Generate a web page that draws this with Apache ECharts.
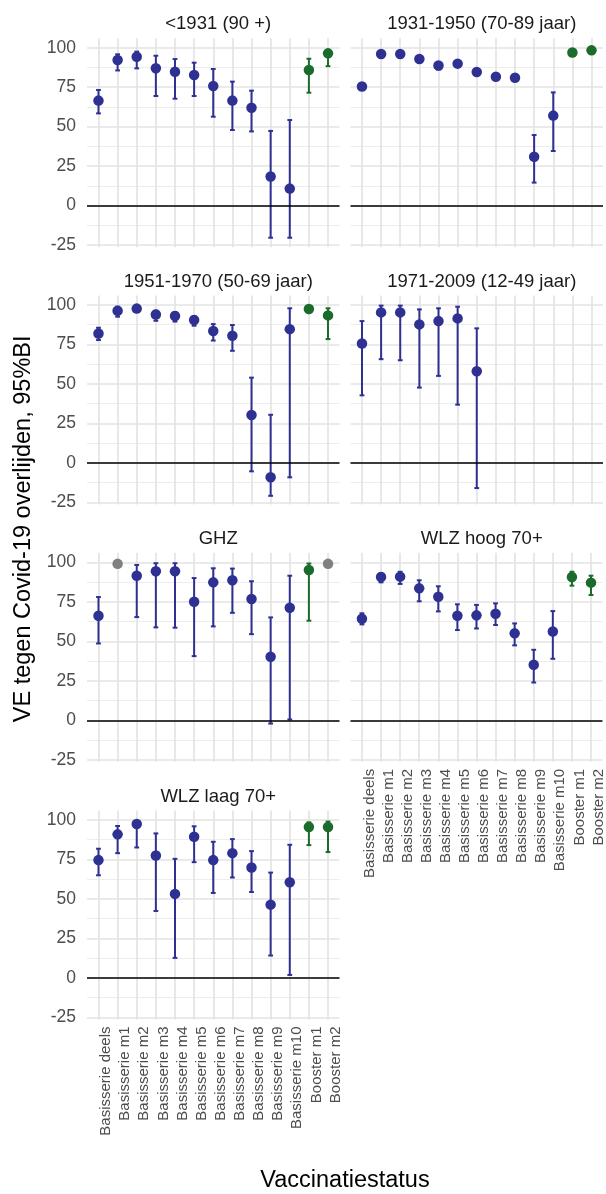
<!DOCTYPE html>
<html>
<head>
<meta charset="utf-8">
<script src="https://cdn.jsdelivr.net/npm/echarts@6/dist/echarts.min.js"></script>
<style>
  html, body { margin: 0; padding: 0; background: #fff; }
  #chart { width: 606px; height: 1194px; }
</style>
</head>
<body>
<div id="chart"></div>
<script>
// ---------------- DATA ----------------
const categories = ['Basisserie deels', 'Basisserie m1', 'Basisserie m2', 'Basisserie m3', 'Basisserie m4',
  'Basisserie m5', 'Basisserie m6', 'Basisserie m7', 'Basisserie m8', 'Basisserie m9', 'Basisserie m10',
  'Booster m1', 'Booster m2'];
const boosterCats = ['Booster m1', 'Booster m2'];
const panelTitles = ['<1931 (90 +)', '1931-1950 (70-89 jaar)', '1951-1970 (50-69 jaar)', '1971-2009 (12-49 jaar)',
  'GHZ', 'WLZ hoog 70+', 'WLZ laag 70+'];
const yTickValues = [-25, 0, 25, 50, 75, 100];
const yMinorValues = [-12.5, 12.5, 37.5, 62.5, 87.5];
const yAxisTitle = 'VE tegen Covid-19 overlijden, 95%BI';
const xAxisTitle = 'Vaccinatiestatus';

// <1931 (90 +)
const ve_p1 = [66.5, 92.2, 94.3, 87.0, 84.8, 82.7, 75.7, 66.5, 62.0, 18.4, 10.8, 85.9, 96.4];
const lo_p1 = [58.4, 85.6, 86.9, 69.4, 67.7, 69.4, 56.3, 47.9, 47.0, -20.3, -20.3, 71.5, 88.3];
const hi_p1 = [73.2, 95.8, 97.5, 94.9, 92.8, 90.5, 86.5, 78.5, 72.8, 47.3, 54.2, 93.0, 98.3];
// 1931-1950 (70-89 jaar)
const ve_p2 = [75.4, 96.0, 96.0, 92.8, 88.7, 89.9, 84.6, 81.6, 81.0, 31.0, 57.0, 97.0, 98.3];
const lo_p2 = [74.3, 95.4, 95.4, 91.8, 86.2, 88.9, 83.6, 80.4, 79.0, 14.6, 34.6, 96.5, 97.9];
const hi_p2 = [76.4, 96.6, 96.6, 93.7, 90.6, 90.8, 85.6, 82.8, 82.9, 44.7, 71.7, 97.5, 98.7];
// 1951-1970 (50-69 jaar)
const ve_p3 = [82.0, 96.4, 97.7, 94.0, 93.0, 90.5, 83.5, 80.5, 30.3, -9.0, 84.7, 97.5, 93.4];
const lo_p3 = [77.8, 92.6, 96.2, 90.0, 89.5, 86.9, 77.5, 71.0, -5.3, -20.8, -9.1, 96.5, 78.4];
const hi_p3 = [85.6, 98.9, 99.0, 96.4, 95.5, 93.0, 87.9, 87.3, 54.0, 30.5, 97.9, 98.5, 97.9];
// 1971-2009 (12-49 jaar)
const ve_p4 = [75.6, 95.3, 95.3, 87.7, 89.8, 91.5, 58.0, null, null, null, null, null, null];
const lo_p4 = [42.8, 65.7, 65.0, 47.7, 55.1, 36.9, -15.9, null, null, null, null, null, null];
const hi_p4 = [89.8, 99.6, 99.6, 97.2, 97.9, 98.9, 85.2, null, null, null, null, null, null];
// GHZ (grey = no interval)
const ve_p5 = [66.2, 99.0, 91.5, 94.3, 94.3, 75.0, 87.3, 88.6, 76.7, 40.2, 71.2, 95.1, 99.0];
const lo_p5 = [48.6, null, 65.3, 58.8, 58.6, 40.6, 59.4, 68.0, 54.5, -2.1, 0.5, 63.0, null];
const hi_p5 = [78.0, null, 98.3, 99.4, 99.4, 90.0, 96.2, 96.0, 88.0, 65.1, 91.5, 99.2, null];
// WLZ hoog 70+
const ve_p6 = [64.3, 90.7, 90.9, 83.5, 78.2, 66.2, 66.4, 67.4, 55.0, 35.1, 56.2, 90.7, 87.1];
const lo_p6 = [60.7, 87.3, 86.3, 75.3, 68.9, 57.1, 58.1, 60.3, 47.4, 23.9, 38.9, 85.2, 79.3];
const hi_p6 = [67.7, 93.0, 94.0, 88.6, 84.8, 73.4, 73.0, 74.0, 61.3, 44.6, 69.1, 94.0, 91.5];
// WLZ laag 70+
const ve_p7 = [74.6, 90.9, 97.5, 77.5, 53.2, 89.4, 74.6, 79.0, 69.9, 46.4, 60.6, 95.5, 95.5];
const lo_p7 = [65.0, 79.0, 82.6, 42.4, 12.7, 73.3, 53.8, 63.6, 54.4, 14.2, 1.9, 84.1, 79.7];
const hi_p7 = [81.8, 96.2, 99.0, 91.5, 75.4, 96.0, 86.2, 87.9, 80.3, 66.7, 84.3, 98.5, 99.0];

const panelVE = [ve_p1, ve_p2, ve_p3, ve_p4, ve_p5, ve_p6, ve_p7];
const panelLo = [lo_p1, lo_p2, lo_p3, lo_p4, lo_p5, lo_p6, lo_p7];
const panelHi = [hi_p1, hi_p2, hi_p3, hi_p4, hi_p5, hi_p6, hi_p7];

// ---------------- STYLE / LAYOUT ----------------
const NAVY = '#2E3192', GREEN = '#1B6B2C', GREY = '#808080';
const FONT = 'Liberation Sans, Arial, Helvetica, sans-serif';
const colLeft = [87, 350.5], colWidth = 252.5;
const rowTop = [38.2, 295.5, 552.8, 810.5], rowHeight = 209;
const Y_MIN = -26.3, Y_MAX = 106;
const labelledX = [5, 6];          // panels that show category labels
const labelledY = [0, 2, 4, 6];    // panels that show value labels

const grids = [], xAxes = [], yAxes = [], series = [], titles = [];
panelTitles.forEach((name, p) => {
  const col = p % 2, row = Math.floor(p / 2);
  grids.push({ left: colLeft[col], top: rowTop[row], width: colWidth, height: rowHeight, containLabel: false });
  titles.push({
    text: name, left: colLeft[col] + colWidth / 2, top: rowTop[row] - 28.5, textAlign: 'center',
    textStyle: { fontFamily: FONT, fontSize: 18.5, fontWeight: 'normal', color: '#1a1a1a' }
  });
  xAxes.push({
    gridIndex: p, type: 'value', min: -0.6, max: categories.length - 1 + 0.6,
    axisLine: { show: false },
    axisTick: { show: false, customValues: categories.map((c, i) => i) },
    splitLine: { show: true, lineStyle: { color: '#e3e3e3', width: 1.6 } },
    axisLabel: {
      show: labelledX.includes(p), customValues: categories.map((c, i) => i),
      formatter: v => categories[Math.round(v)], rotate: 90, margin: 7,
      fontFamily: FONT, fontSize: 15, color: '#4d4d4d', verticalAlign: 'top'
    }
  });
  yAxes.push({
    gridIndex: p, type: 'value', min: Y_MIN, max: Y_MAX,
    axisLine: { show: false },
    axisTick: { show: false, customValues: yTickValues },
    splitLine: { show: true, lineStyle: { color: '#e3e3e3', width: 1.6 } },
    axisLabel: {
      show: labelledY.includes(p), customValues: yTickValues, margin: 11,
      fontFamily: FONT, fontSize: 17.5, color: '#4d4d4d'
    }
  });
  yAxes.push({
    gridIndex: p, type: 'value', min: Y_MIN, max: Y_MAX, position: 'left',
    axisLine: { show: false },
    axisTick: { show: false, customValues: yMinorValues },
    splitLine: { show: true, lineStyle: { color: '#ebebeb', width: 0.9 } },
    axisLabel: { show: false }
  });

  const ve = panelVE[p], lo = panelLo[p], hi = panelHi[p];
  const colorOf = i => (lo[i] == null ? GREY : (boosterCats.includes(categories[i]) ? GREEN : NAVY));
  const barData = [], ptData = [];
  categories.forEach((c, i) => {
    if (ve[i] == null) return;
    if (lo[i] != null && hi[i] != null) barData.push({ value: [i, lo[i], hi[i]], itemStyle: { color: colorOf(i) } });
    ptData.push({ value: [i, ve[i]], itemStyle: { color: colorOf(i), opacity: 1 } });
  });
  series.push({
    type: 'custom', xAxisIndex: p, yAxisIndex: 2 * p, data: barData, silent: true, z: 2,
    encode: { x: 0, y: [1, 2] },
    renderItem: (params, api) => {
      const x = api.value(0);
      const a = api.coord([x, api.value(1)]);
      const b = api.coord([x, api.value(2)]);
      const col = api.visual('color');
      const cap = 2.4;
      const st = { stroke: col, lineWidth: 2 };
      return {
        type: 'group', children: [
          { type: 'line', shape: { x1: a[0], y1: a[1], x2: b[0], y2: b[1] }, style: st },
          { type: 'line', shape: { x1: a[0] - cap, y1: a[1], x2: a[0] + cap, y2: a[1] }, style: st },
          { type: 'line', shape: { x1: b[0] - cap, y1: b[1], x2: b[0] + cap, y2: b[1] }, style: st }
        ]
      };
    }
  });
  series.push({
    type: 'scatter', xAxisIndex: p, yAxisIndex: 2 * p, data: ptData, symbolSize: 10.5, z: 3, silent: true,
    itemStyle: { opacity: 1 },
    markLine: {
      silent: true, symbol: 'none', label: { show: false }, animation: false,
      lineStyle: { color: '#000', width: 1.6, type: 'solid' },
      data: [{ yAxis: 0 }]
    }
  });
});

const chart = echarts.init(document.getElementById('chart'), null, { renderer: 'canvas' });
chart.setOption({
  animation: false,
  backgroundColor: '#fff',
  title: titles,
  grid: grids, xAxis: xAxes, yAxis: yAxes, series: series,
  graphic: [
    { type: 'text', x: 24, y: (rowTop[0] + rowTop[3] + rowHeight) / 2, rotation: Math.PI / 2,
      style: { text: yAxisTitle, fontFamily: FONT, fontSize: 23.5, fill: '#000', align: 'center', verticalAlign: 'middle' } },
    { type: 'text', x: (colLeft[0] + colLeft[1] + colWidth) / 2, y: 1181,
      style: { text: xAxisTitle, fontFamily: FONT, fontSize: 23.5, fill: '#000', align: 'center', verticalAlign: 'middle' } }
  ]
});
</script>
</body>
</html>
